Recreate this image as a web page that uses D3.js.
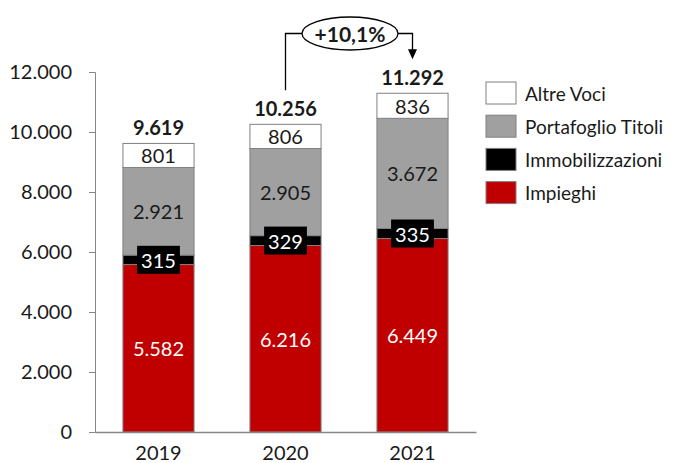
<!DOCTYPE html>
<html>
<head>
<meta charset="utf-8">
<script src="https://cdn.jsdelivr.net/npm/d3@7"></script>
<style>
  body { margin: 0; background: #fff; }
  svg text { font-family: Lato, "Open Sans", sans-serif; }
</style>
</head>
<body>
<div id="chart"></div>
<script>
// data
let years = ['2019', '2020', '2021']
let impieghi = [5582, 6216, 6449]
let immobilizzazioni = [315, 329, 335]
let portafoglio = [2921, 2905, 3672]
let altreVoci = [801, 806, 836]
let totali = [9619, 10256, 11292]
let yTicks = [0, 2000, 4000, 6000, 8000, 10000, 12000]
let growthLabel = '+10,1%'

let seriesNames = ['Impieghi', 'Immobilizzazioni', 'Portafoglio Titoli', 'Altre Voci']
let seriesColors = ['#c00000', '#000000', '#a0a0a0', '#ffffff']
let labelColors = ['#ffffff', '#ffffff', '#1a1a1a', '#1a1a1a']

let width = 676
let height = 463

let svg = d3.select('#chart')
  .append('svg')
  .attr('width', width)
  .attr('height', height)

let x = d3.scaleBand()
  .domain(years)
  .range([95, 476])
  .paddingInner(0.44)
  .paddingOuter(0.22)

let y = d3.scaleLinear()
  .domain([0, 12000])
  .range([432, 72])

let fmt = d3.formatLocale({ decimal: ',', thousands: '.', grouping: [3], currency: ['€', ''] }).format(',d')

// build rows for the stack
let rows = years.map((yr, i) => ({
  year: yr,
  Impieghi: impieghi[i],
  Immobilizzazioni: immobilizzazioni[i],
  'Portafoglio Titoli': portafoglio[i],
  'Altre Voci': altreVoci[i]
}))
let stacked = d3.stack().keys(seriesNames)(rows)

// y axis
let yAxis = svg.append('g')
  .attr('transform', 'translate(95,0)')
  .call(d3.axisLeft(y).tickValues(yTicks).tickSize(6).tickPadding(17).tickFormat(fmt))
yAxis.select('.domain').attr('stroke', '#868686')
yAxis.selectAll('.tick line').attr('stroke', '#868686')
yAxis.selectAll('.tick text').attr('font-size', 20).attr('fill', '#1a1a1a')

// bars
let groups = svg.selectAll('.serie')
  .data(stacked)
  .enter()
  .append('g')
  .attr('class', 'serie')
  .attr('fill', (d, i) => seriesColors[i])

groups.selectAll('rect')
  .data(d => d)
  .enter()
  .append('rect')
  .attr('x', d => x(d.data.year))
  .attr('y', d => y(d[1]))
  .attr('width', x.bandwidth())
  .attr('height', d => y(d[0]) - y(d[1]))
  .attr('stroke', '#808080')
  .attr('stroke-width', 1)

// x axis (just the baseline and labels)
let xAxis = svg.append('g')
  .attr('transform', 'translate(0,432)')
  .call(d3.axisBottom(x).tickSize(0).tickPadding(14))
xAxis.select('.domain').attr('stroke', '#868686').attr('stroke-width', 1.3)
xAxis.selectAll('.tick text').attr('font-size', 20).attr('fill', '#1a1a1a')

// segment labels
stacked.forEach((s, si) => {
  s.forEach(d => {
    let cx = x(d.data.year) + x.bandwidth() / 2
    let cy = (y(d[0]) + y(d[1])) / 2
    let g = svg.append('g')
    let t = g.append('text')
      .attr('x', cx)
      .attr('y', cy)
      .attr('text-anchor', 'middle')
      .attr('dominant-baseline', 'central')
      .attr('font-size', 20)
      .attr('fill', labelColors[si])
      .text(fmt(d[1] - d[0]))
    if (s.key === 'Immobilizzazioni') {
      let b = t.node().getBBox()
      g.insert('rect', 'text')
        .attr('x', b.x - 4)
        .attr('y', cy - 14)
        .attr('width', b.width + 8)
        .attr('height', 28)
        .attr('fill', '#000')
    }
  })
})

// totals
svg.selectAll('.total')
  .data(totali)
  .enter()
  .append('text')
  .attr('class', 'total')
  .attr('x', (d, i) => x(years[i]) + x.bandwidth() / 2)
  .attr('y', d => y(d) - 16)
  .attr('text-anchor', 'middle')
  .attr('dominant-baseline', 'central')
  .attr('font-size', 20)
  .attr('font-weight', 'bold')
  .attr('fill', '#1a1a1a')
  .text(d => fmt(d))

// growth annotation between 2020 and 2021
let x1 = x('2020') + x.bandwidth() / 2
let x2 = x('2021') + x.bandwidth() / 2
let topY = 33.5
let ex = (x1 + x2) / 2 + 1
svg.append('path')
  .attr('d', `M${x1},${y(totali[1]) - 34} V${topY} H${ex - 48} M${ex + 48},${topY} H${x2} V${y(totali[2]) - 43}`)
  .attr('fill', 'none')
  .attr('stroke', '#000')
  .attr('stroke-width', 1.3)
svg.append('path')
  .attr('d', `M${x2 - 4.5},${y(totali[2]) - 44} L${x2 + 4.5},${y(totali[2]) - 44} L${x2},${y(totali[2]) - 34} Z`)
  .attr('fill', '#000')
svg.append('ellipse')
  .attr('cx', ex)
  .attr('cy', topY)
  .attr('rx', 48)
  .attr('ry', 16.5)
  .attr('fill', '#fff')
  .attr('stroke', '#000')
  .attr('stroke-width', 1.3)
svg.append('text')
  .attr('x', ex)
  .attr('y', topY)
  .attr('text-anchor', 'middle')
  .attr('dominant-baseline', 'central')
  .attr('font-size', 21)
  .attr('font-weight', 'bold')
  .attr('fill', '#1a1a1a')
  .text(growthLabel)

// legend, top item is Altre Voci
let legendOrder = [3, 2, 1, 0]
let legend = svg.selectAll('.legend')
  .data(legendOrder)
  .enter()
  .append('g')
  .attr('class', 'legend')
  .attr('transform', (d, i) => `translate(486,${82 + i * 33.2})`)

legend.append('rect')
  .attr('width', 30)
  .attr('height', 22)
  .attr('fill', d => seriesColors[d])
  .attr('stroke', '#808080')

legend.append('text')
  .attr('x', 39)
  .attr('y', 11)
  .attr('dominant-baseline', 'central')
  .attr('font-size', 19)
  .attr('fill', '#1a1a1a')
  .text(d => seriesNames[d])
</script>
</body>
</html>
